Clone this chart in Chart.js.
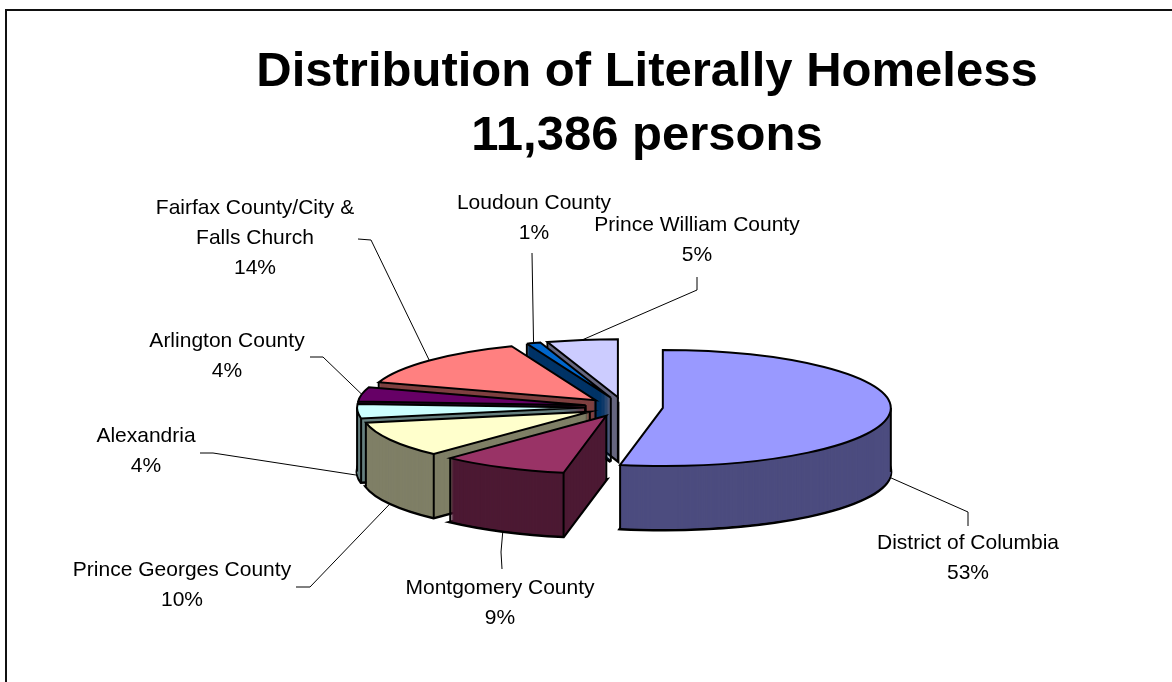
<!DOCTYPE html>
<html>
<head>
<meta charset="utf-8">
<script src="https://cdn.jsdelivr.net/npm/chart.js@4.4.1/dist/chart.umd.min.js"></script>
<style>
  html, body { margin: 0; padding: 0; background: #fff; }
  canvas { display: block; }
</style>
</head>
<body>
<canvas id="c" width="1172" height="682"></canvas>
<script>
// ---- data ----
const categories = [
  'District of Columbia',
  'Montgomery County',
  'Prince Georges County',
  'Alexandria',
  'Arlington County',
  ['Fairfax County/City &', 'Falls Church'],
  'Loudoun County',
  'Prince William County'
];
const shares = [53, 9, 10, 4, 4, 14, 1, 5];
const faceColors = ['#9999FF', '#993366', '#FFFFCC', '#CCFFFF', '#660066', '#FF8080', '#0066CC', '#CCCCFF'];
const titleLines = ['Distribution of Literally Homeless', '11,386 persons'];

// ---- layout ----
// tilted pie: screen centre, radius, vertical squash, wall height, explosion distance
const PIE = { cx: 624, cy: 407, radius: 228, tilt: 0.2544, depth: 64, explode: 39 };
// label centre (x, first line y) and the bend points of each leader line
const LABEL_POS = [
  { x: 968, y: 543, bend: [[968, 526], [968, 512]] },
  { x: 500, y: 588, bend: [[502, 569], [501, 552]] },
  { x: 182, y: 570, bend: [[296, 587], [310, 587]] },
  { x: 146, y: 436, bend: [[200, 453], [213, 453]] },
  { x: 227, y: 341, bend: [[310, 357], [323, 357]] },
  { x: 255, y: 208, bend: [[358, 239], [371, 240]] },
  { x: 534, y: 203, bend: [[532, 253]] },
  { x: 697, y: 225, bend: [[697, 277], [697, 290]] }
];
const LABEL_FONT = '21px "Liberation Sans", Arial, sans-serif';
const LABEL_LINE = 30;

function shade(hex) {
  const n = parseInt(hex.slice(1), 16);
  const r = (n >> 16) & 255, g = (n >> 8) & 255, b = n & 255;
  return 'rgb(' + (r >> 1) + ',' + (g >> 1) + ',' + (b >> 1) + ')';
}
const midAngle = a => (a.startAngle + a.endAngle) / 2;

// strokes are done in device space so the squash does not thin horizontal edges
function isoStroke(ctx, fn) {
  const orig = CanvasRenderingContext2D.prototype.stroke;
  ctx.stroke = function () {
    this.save();
    this.setTransform(1, 0, 0, 1, 0, 0);
    orig.apply(this, arguments);
    this.restore();
  };
  try { fn(); } finally { delete ctx.stroke; }
}

function place(ctx, arc, dx, dy) {
  ctx.translate(PIE.cx + dx, PIE.cy + dy);
  ctx.scale(1, PIE.tilt);
  ctx.translate(-arc.x, -arc.y);
}

function project(arc, angle, r, down) {
  const m = midAngle(arc);
  return [
    PIE.cx + Math.cos(m) * PIE.explode + Math.cos(angle) * r,
    PIE.cy + (Math.sin(m) * PIE.explode + Math.sin(angle) * r) * PIE.tilt + down
  ];
}

function drawSlice(ctx, arc, i) {
  const m = midAngle(arc);
  const ex = Math.cos(m) * PIE.explode;
  const ey = Math.sin(m) * PIE.explode * PIE.tilt;
  const wallColor = shade(faceColors[i]);

  // bottom outline of the extruded slice
  const base = Object.create(arc);
  base.options = Object.assign({}, arc.options, { backgroundColor: wallColor, borderColor: '#000', borderWidth: 3 });
  isoStroke(ctx, () => { ctx.save(); place(ctx, arc, ex, ey + PIE.depth); base.draw(ctx); ctx.restore(); });

  // side walls
  const body = Object.create(arc);
  body.options = Object.assign({}, arc.options, { backgroundColor: wallColor, borderWidth: 0 });
  for (let d = PIE.depth - 1; d >= 1; d--) {
    ctx.save(); place(ctx, arc, ex, ey + d); body.draw(ctx); ctx.restore();
  }

  // vertical edges that face the viewer
  const a0 = arc.startAngle, a1 = arc.endAngle, r = arc.outerRadius;
  const startFace = Math.cos(a0) < -1e-6;
  const endFace = Math.cos(a1) > 1e-6;
  const edges = [];
  if (startFace || endFace) edges.push([m, 0]);
  if (Math.sin(a0) > 0 || startFace) edges.push([a0, r]);
  if (Math.sin(a1) > 0 || endFace) edges.push([a1, r]);
  [0, Math.PI].forEach(t => { if (t > a0 && t < a1) edges.push([t, r]); });
  ctx.save();
  ctx.strokeStyle = '#000';
  ctx.lineWidth = 2;
  edges.forEach(([ang, rr]) => {
    const p = project(arc, ang, rr, 0);
    ctx.beginPath();
    ctx.moveTo(p[0], p[1]);
    ctx.lineTo(p[0], p[1] + PIE.depth);
    ctx.stroke();
  });
  ctx.restore();

  // top face
  isoStroke(ctx, () => { ctx.save(); place(ctx, arc, ex, ey); arc.draw(ctx); ctx.restore(); });
}

const pie3d = {
  id: 'pie3d',
  beforeDraw(chart) {
    const ctx = chart.ctx;
    ctx.save();
    ctx.fillStyle = '#fff';
    ctx.fillRect(0, 0, chart.width, chart.height);
    ctx.fillStyle = '#111';
    ctx.fillRect(5, 9, chart.width - 5, 2);
    ctx.fillRect(5, 9, 2, chart.height - 9);
    ctx.restore();
  },
  beforeDatasetDraw() { return false; },
  afterDatasetsDraw(chart) {
    const ctx = chart.ctx;
    const meta = chart.getDatasetMeta(0);
    const arcs = meta.data;
    const order = arcs.map((a, i) => i)
      .sort((i, j) => Math.sin(midAngle(arcs[i])) - Math.sin(midAngle(arcs[j])));
    order.forEach(i => drawSlice(ctx, arcs[i], i));

    // labels with leader lines
    const total = shares.reduce((s, v) => s + v, 0);
    ctx.save();
    ctx.font = LABEL_FONT;
    ctx.fillStyle = '#000';
    ctx.textAlign = 'center';
    ctx.textBaseline = 'middle';
    arcs.forEach((arc, i) => {
      const pos = LABEL_POS[i];
      const m = midAngle(arc);
      const anchor = project(arc, m, arc.outerRadius, Math.sin(m) > 0 ? PIE.depth : 0);
      ctx.strokeStyle = '#000';
      ctx.lineWidth = 1;
      ctx.beginPath();
      ctx.moveTo(pos.bend[0][0], pos.bend[0][1]);
      pos.bend.slice(1).forEach(p => ctx.lineTo(p[0], p[1]));
      ctx.lineTo(anchor[0], anchor[1]);
      ctx.stroke();
      const lines = [].concat(categories[i], Math.round(shares[i] / total * 100) + '%');
      lines.forEach((t, j) => ctx.fillText(t, pos.x, pos.y + j * LABEL_LINE));
    });
    ctx.restore();
  }
};

new Chart(document.getElementById('c'), {
  type: 'pie',
  data: {
    labels: categories,
    datasets: [{
      data: shares,
      backgroundColor: faceColors,
      borderColor: '#000',
      borderWidth: 2,
      borderJoinStyle: 'miter',
      radius: PIE.radius
    }]
  },
  options: {
    responsive: false,
    animation: false,
    events: [],
    layout: { padding: { left: 130, right: 8, top: 40, bottom: 0 } },
    plugins: {
      legend: { display: false },
      tooltip: { enabled: false },
      title: {
        display: true,
        text: titleLines,
        color: '#000',
        font: { family: '"Liberation Sans", Arial, sans-serif', size: 49, weight: 'bold', lineHeight: 64 / 49 },
        padding: { top: 0, bottom: 0 }
      }
    }
  },
  plugins: [pie3d]
});
</script>
</body>
</html>
